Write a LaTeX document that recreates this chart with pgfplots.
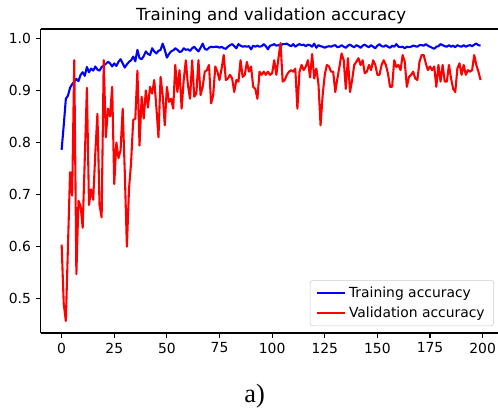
\documentclass[border=0pt]{standalone}
\usepackage{fontspec}
\setmainfont{DejaVu Sans}
\newfontfamily\capfont{Liberation Serif}
\usepackage{pgfplots}
\usepackage{pgfplotstable}
\pgfplotsset{compat=1.18}

% epoch, training accuracy, validation accuracy
\pgfplotstableread{
ep train val
0 0.786 0.604
1 0.833 0.490
2 0.884 0.457
3 0.890 0.600
4 0.905 0.743
5 0.912 0.698
6 0.917 0.958
7 0.922 0.547
8 0.918 0.688
9 0.930 0.678
10 0.935 0.636
11 0.928 0.770
12 0.945 0.905
13 0.935 0.680
14 0.942 0.710
15 0.938 0.690
16 0.946 0.780
17 0.940 0.855
18 0.938 0.680
19 0.945 0.656
20 0.948 0.958
21 0.951 0.810
22 0.955 0.865
23 0.952 0.850
24 0.946 0.907
25 0.952 0.720
26 0.947 0.800
27 0.955 0.770
28 0.960 0.785
29 0.952 0.865
30 0.944 0.743
31 0.950 0.600
32 0.955 0.710
33 0.958 0.762
34 0.965 0.843
35 0.956 0.846
36 0.978 0.938
37 0.962 0.794
38 0.960 0.888
39 0.966 0.846
40 0.975 0.900
41 0.970 0.867
42 0.968 0.907
43 0.981 0.894
44 0.975 0.920
45 0.971 0.868
46 0.976 0.810
47 0.978 0.926
48 0.990 0.891
49 0.978 0.833
50 0.963 0.907
51 0.970 0.878
52 0.975 0.884
53 0.977 0.865
54 0.981 0.949
55 0.978 0.897
56 0.974 0.939
57 0.975 0.865
58 0.981 0.920
59 0.978 0.958
60 0.979 0.910
61 0.976 0.884
62 0.981 0.958
63 0.984 0.888
64 0.979 0.894
65 0.975 0.958
66 0.982 0.891
67 0.990 0.907
68 0.980 0.936
69 0.978 0.939
70 0.982 0.949
71 0.984 0.875
72 0.983 0.891
73 0.984 0.946
74 0.984 0.936
75 0.982 0.920
76 0.984 0.942
77 0.981 0.968
78 0.980 0.920
79 0.984 0.923
80 0.987 0.930
81 0.989 0.923
82 0.985 0.897
83 0.981 0.920
84 0.989 0.917
85 0.986 0.958
86 0.984 0.926
87 0.985 0.930
88 0.984 0.955
89 0.985 0.936
90 0.979 0.946
91 0.986 0.907
92 0.984 0.903
93 0.986 0.884
94 0.984 0.936
95 0.985 0.930
96 0.989 0.936
97 0.985 0.930
98 0.979 0.936
99 0.986 0.930
100 0.987 0.933
101 0.989 0.958
102 0.986 0.930
103 0.987 0.962
104 0.986 0.991
105 0.989 0.917
106 0.989 0.920
107 0.990 0.930
108 0.987 0.936
109 0.985 0.939
110 0.989 0.936
111 0.984 0.942
112 0.987 0.865
113 0.989 0.936
114 0.987 0.949
115 0.988 0.939
116 0.985 0.946
117 0.988 0.958
118 0.987 0.925
119 0.984 0.970
120 0.990 0.923
121 0.982 0.942
122 0.987 0.913
123 0.985 0.833
124 0.984 0.891
125 0.982 0.930
126 0.984 0.949
127 0.985 0.946
128 0.984 0.936
129 0.986 0.936
130 0.987 0.897
131 0.983 0.923
132 0.984 0.946
133 0.987 0.971
134 0.984 0.958
135 0.982 0.903
136 0.986 0.962
137 0.988 0.897
138 0.985 0.920
139 0.983 0.949
140 0.987 0.955
141 0.985 0.962
142 0.982 0.949
143 0.986 0.958
144 0.988 0.933
145 0.985 0.936
146 0.983 0.949
147 0.987 0.939
148 0.984 0.958
149 0.981 0.949
150 0.986 0.930
151 0.989 0.930
152 0.985 0.949
153 0.984 0.958
154 0.987 0.949
155 0.984 0.933
156 0.982 0.907
157 0.986 0.907
158 0.984 0.958
159 0.989 0.945
160 0.984 0.949
161 0.983 0.939
162 0.984 0.968
163 0.981 0.955
164 0.984 0.907
165 0.983 0.926
166 0.984 0.930
167 0.986 0.936
168 0.985 0.923
169 0.984 0.920
170 0.987 0.955
171 0.987 0.968
172 0.986 0.968
173 0.989 0.952
174 0.986 0.939
175 0.984 0.946
176 0.982 0.939
177 0.980 0.946
178 0.984 0.907
179 0.985 0.949
180 0.989 0.917
181 0.987 0.949
182 0.985 0.917
183 0.984 0.917
184 0.987 0.949
185 0.984 0.923
186 0.986 0.903
187 0.983 0.897
188 0.987 0.942
189 0.985 0.952
190 0.984 0.930
191 0.987 0.949
192 0.984 0.930
193 0.986 0.939
194 0.987 0.936
195 0.985 0.939
196 0.988 0.968
197 0.990 0.949
198 0.987 0.936
199 0.986 0.920
}\acc

\begin{document}
\begin{tikzpicture}
\begin{axis}[
  scale only axis, width=329.3pt, height=218.9pt,
  xmin=-9.95, xmax=207.3, ymin=0.434, ymax=1.018,
  axis x line*=bottom, axis y line*=left,
  axis line style={line width=0.8pt, -},
  tick align=outside, major tick length=3.5pt,
  tick style={line width=0.8pt, black},
  xtick={0,25,50,75,100,125,150,175,200},
  ytick={0.5,0.6,0.7,0.8,0.9,1.0},
  yticklabel style={/pgf/number format/.cd, fixed, fixed zerofill, precision=1},
  tick label style={font=\fontsize{10}{12}\selectfont},
  /pgf/number format/assume math mode=true,
  clip=false,
  legend cell align=left,
  legend image code/.code={\draw[#1] (0pt,0pt) -- (20pt,0pt);},
  legend style={at={(rel axis cs:1,0)}, anchor=south east, xshift=-2.9pt, yshift=5pt,
    draw=black!20, rounded corners=2pt, font=\fontsize{10}{12}\selectfont,
    inner xsep=4.5pt, inner ysep=2.5pt, row sep=1.5pt},
]
\addplot[blue, line width=1.5pt, line join=round] table[x=ep, y=train] {\acc};
\addlegendentry{Training accuracy}
\addplot[red, line width=1.5pt, line join=round] table[x=ep, y=val] {\acc};
\addlegendentry{Validation accuracy}
\draw[line width=0.8pt] (rel axis cs:0,1) -- (rel axis cs:1,1);
\coordinate (sw) at (rel axis cs:0,0);
\coordinate (ne) at (rel axis cs:1,1);
\node[anchor=base, xshift=1.3pt, yshift=6pt, font=\fontsize{12}{14}\selectfont]
  at (rel axis cs:0.5,1) {Training and validation accuracy};
\end{axis}
\node[anchor=base, font=\capfont\fontsize{19}{22}\selectfont]
  at ([xshift=154pt, yshift=-49.7pt]sw) {a)};
\pgfresetboundingbox
\path[use as bounding box] ([xshift=-29.3pt, yshift=-59.8pt]sw) rectangle ([yshift=20.9pt]ne);
\end{tikzpicture}
\end{document}
